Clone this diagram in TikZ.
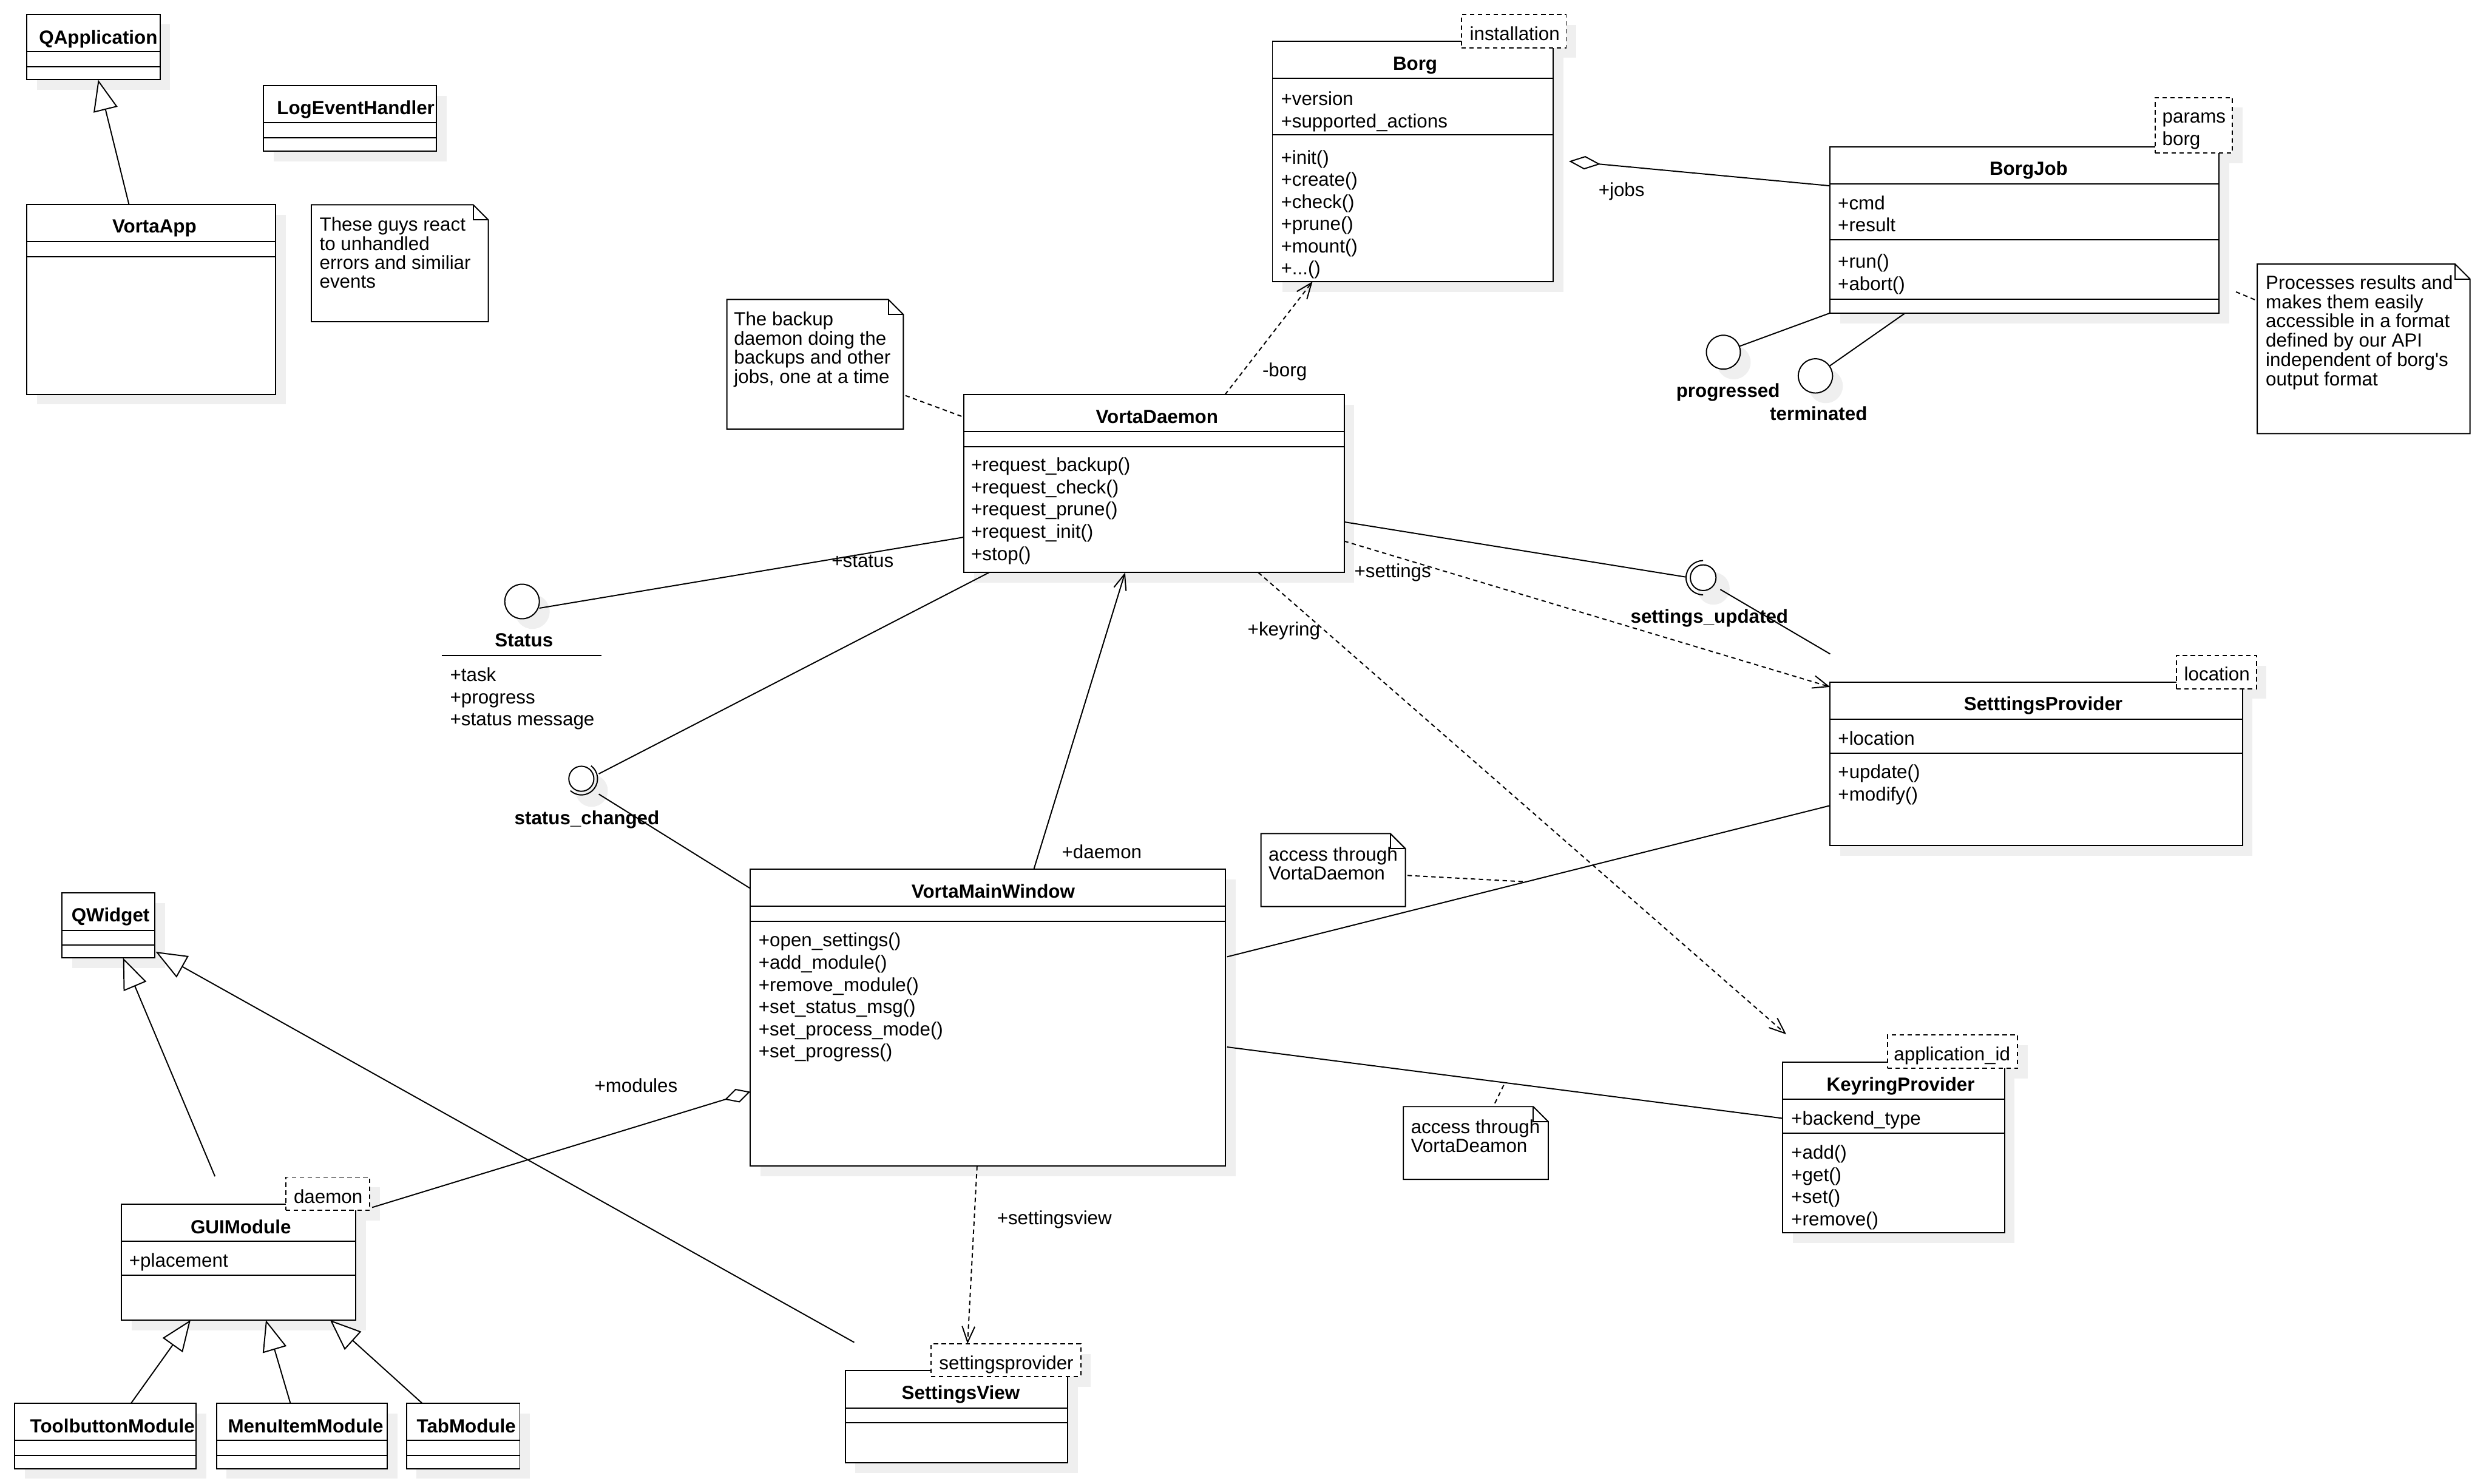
\documentclass[tikz,border=0pt]{standalone}
\usepackage{fontspec}
\setmainfont{Liberation Sans}
\usetikzlibrary{arrows.meta,calc}
\pgfdeclarelayer{bgbase}
\pgfdeclarelayer{shadowlayer}
\pgfsetlayers{bgbase,shadowlayer,main}
\definecolor{shadowc}{HTML}{EFEFEF}

\tikzset{
  boxline/.style={line width=0.75pt},
  cls/.style={draw, line width=0.75pt, fill=white, rectangle, anchor=north west, inner sep=0pt, outer sep=0pt},
  stbox/.style={cls, dash pattern=on 2.8pt off 2.2pt},
  notebox/.style={rectangle, anchor=north west, inner sep=0pt, outer sep=0pt},
  txt/.style={inner sep=0pt, outer sep=0pt, anchor=base west, font=\fontsize{12}{14}\selectfont},
  ttl/.style={inner sep=0pt, outer sep=0pt, anchor=base, font=\fontsize{12}{14}\selectfont\bfseries},
  conn/.style={line width=0.75pt},
  dconn/.style={line width=0.75pt, dash pattern=on 2.8pt off 2.2pt},
  gen/.style={conn, -{Triangle[length=19.5pt,width=15.5pt,fill=white]}},
  openarr/.style={-{Straight Barb[length=10pt,width=8pt]}},
  lolli/.style={circle, draw, line width=0.75pt, fill=white, inner sep=0pt, outer sep=0pt},
}

\newcommand\umlbox[6][cls]{%
  \node[#1, minimum width=#5pt, minimum height=#6pt] (#2) at (#3,#4) {};
  \begin{pgfonlayer}{shadowlayer}
    \fill[shadowc] ($(#2.north west)+(6.4,6.4)$) rectangle ($(#2.south east)+(6.4,6.4)$);
  \end{pgfonlayer}}
\newcommand\sepl[2]{\draw[boxline] ($(#1.north west)+(0,#2)$) -- ($(#1.north east)+(0,#2)$);}
\newcommand\umlnote[5]{%
  \node[notebox, minimum width=#4pt, minimum height=#5pt] (#1) at (#2,#3) {};
  \draw[boxline, fill=white, line join=miter] (#1.north west) -- ($(#1.north east)+(-9.5,0)$) -- ($(#1.north east)+(0,9.5)$) -- (#1.south east) -- (#1.south west) -- cycle;
  \draw[boxline] ($(#1.north east)+(-9.5,0)$) -- ($(#1.north east)+(-9.5,9.5)$) -- ($(#1.north east)+(0,9.5)$);}
\newcommand\circshadow[3]{%
  \begin{pgfonlayer}{shadowlayer}
    \fill[shadowc] ($(#1.center)+(6.5,#3)$) circle[radius=#2pt];
  \end{pgfonlayer}}

\begin{document}
\begin{tikzpicture}[x=1pt,y=-1pt]
\useasboundingbox (0,0) rectangle (1568.1,935.7);
\begin{pgfonlayer}{bgbase}
  \fill[white] (0,0) rectangle (1568.1,935.7);
\end{pgfonlayer}

% ---------- class boxes ----------
\umlbox{qapp}{16.8}{9.1}{84.1}{41.2}
\sepl{qapp}{23.6}\sepl{qapp}{33.1}
\umlbox{vapp}{16.8}{129.2}{157.1}{119.5}
\sepl{vapp}{23.0}\sepl{vapp}{32.7}
\umlbox{logh}{166.3}{54.1}{109.1}{41.2}
\sepl{logh}{23.3}\sepl{logh}{32.7}
\umlbox{borg}{802.6}{26.0}{177.0}{151.6}
\sepl{borg}{23.4}\sepl{borg}{58.9}
\umlbox{borgjob}{1154.2}{92.5}{245.6}{105.0}
\sepl{borgjob}{23.5}\sepl{borgjob}{58.8}\sepl{borgjob}{96.2}
\umlbox{vd}{608.1}{248.9}{239.7}{112.2}
\sepl{vd}{23.2}\sepl{vd}{32.8}
\umlbox{sp}{1154.4}{430.2}{260.0}{103.1}
\sepl{sp}{23.5}\sepl{sp}{45.0}
\umlbox{vmw}{473.3}{548.3}{299.7}{187.2}
\sepl{vmw}{23.3}\sepl{vmw}{32.8}
\umlbox{kp}{1124.5}{670.1}{139.9}{107.4}
\sepl{kp}{23.2}\sepl{kp}{44.8}
\umlbox{qw}{39.1}{563.1}{58.5}{41.1}
\sepl{qw}{23.7}\sepl{qw}{33.1}
\umlbox{gui}{76.7}{759.6}{147.8}{73.0}
\sepl{gui}{23.3}\sepl{gui}{44.9}
\umlbox{tbm}{9.3}{885.2}{114.3}{41.1}
\sepl{tbm}{23.4}\sepl{tbm}{32.8}
\umlbox{mim}{136.5}{885.2}{107.7}{41.1}
\sepl{mim}{23.4}\sepl{mim}{32.8}
\umlbox{tabm}{256.4}{885.2}{71.5}{41.1}
\sepl{tabm}{23.4}\sepl{tabm}{32.8}
\umlbox{sv}{533.2}{864.6}{140.2}{58.1}
\sepl{sv}{23.4}\sepl{sv}{32.7}

% ---------- stereotype (template) boxes ----------
\umlbox[stbox]{borgst}{921.8}{9.2}{66.1}{20.9}
\umlbox[stbox]{bjst}{1359.6}{61.5}{48.6}{34.9}
\umlbox[stbox]{spst}{1372.8}{413.4}{50.4}{21.0}
\umlbox[stbox]{kpst}{1190.5}{652.9}{82.2}{21.0}
\umlbox[stbox]{guist}{180.3}{742.5}{52.9}{20.8}
\umlbox[stbox]{svst}{587.3}{847.6}{94.4}{20.6}

% ---------- notes ----------
\umlnote{n1}{196.4}{129.2}{111.6}{73.7}
\umlnote{n2}{458.5}{188.9}{111.3}{81.7}
\umlnote{n3}{1423.8}{166.5}{134.2}{107.0}
\umlnote{n4}{795.4}{525.8}{91.1}{46.0}
\umlnote{n5}{885.2}{698.0}{91.4}{45.9}

% ---------- lollipops ----------
\node[lolli, minimum size=21.8pt] (sc) at (329.3,379.4) {};
\circshadow{sc}{10.9}{6.4}
\node[lolli, minimum size=15.8pt] (scc) at (366.7,491.2) {};
\circshadow{scc}{10.2}{7.5}
\draw[boxline] ($(scc.center)+(53:10.2pt)$) arc[start angle=53, end angle=-132.5, radius=10.2pt];
\node[lolli, minimum size=16.2pt] (suc) at (1074.3,364.4) {};
\circshadow{suc}{10.2}{6.8}
\draw[boxline] ($(suc.center)+(90:10.8pt)$) arc[start angle=90, end angle=270, radius=10.8pt];
\node[lolli, minimum size=21.4pt] (pc) at (1087.05,222.15) {};
\circshadow{pc}{10.7}{6.4}
\node[lolli, minimum size=21.6pt] (tc) at (1145.1,237.1) {};
\circshadow{tc}{10.8}{6.4}

% ---------- texts: classes ----------
\node[ttl] (qappT) at (62.0,27.9) {QApplication};
\node[ttl] (vappT) at (97.4,146.9) {VortaApp};
\node[ttl] (loghT) at (224.4,72.2) {LogEventHandler};

\node[ttl] (borgT) at (892.6,44.3) {Borg};
\node[txt] (borgA1) at (808,66.4) {+version};
\node[txt] (borgA2) at (808,80.4) {+supported\_actions};
\node[txt] (borgM0) at (808,103.4) {+init()};
\node[txt] (borgM1) at (808,117.4) {+create()};
\node[txt] (borgM2) at (808,131.4) {+check()};
\node[txt] (borgM3) at (808,145.4) {+prune()};
\node[txt] (borgM4) at (808,159.4) {+mount()};
\node[txt] (borgM5) at (808,173.4) {+.{}.{}.()};
\node[txt] (borgstT) at (927.1,25.5) {installation};

\node[ttl] (borgjobT) at (1279.6,110.3) {BorgJob};
\node[txt] (bjA1) at (1159.3,132.1) {+cmd};
\node[txt] (bjA2) at (1159.3,146.0) {+result};
\node[txt] (bjM1) at (1159.3,169.2) {+run()};
\node[txt] (bjM2) at (1159.3,183.1) {+abort()};
\node[txt] (bjstT1) at (1363.9,77.6) {params};
\node[txt] (bjstT2) at (1363.9,91.6) {borg};

\node[ttl] (vdT) at (729.8,267.0) {VortaDaemon};
\foreach \t [count=\i from 0] in {+request\_backup(),+request\_check(),+request\_prune(),+request\_init(),+stop()}
  \node[txt] (vdM\i) at ({612.6},{297.4+14*\i}) {\t};

\node[ttl] (spT) at (1288.8,448.1) {SetttingsProvider};
\node[txt] (spA1) at (1159.4,470.0) {+location};
\node[txt] (spM1) at (1159.4,491.1) {+update()};
\node[txt] (spM2) at (1159.4,505.2) {+modify()};
\node[txt] (spstT) at (1377.7,429.3) {location};

\node[ttl] (vmwT) at (626.5,566.3) {VortaMainWindow};
\foreach \t [count=\i from 0] in {+open\_settings(),+add\_module(),+remove\_module(),+set\_status\_msg(),+set\_process\_mode(),+set\_progress()}
  \node[txt] (vmwM\i) at ({478.5},{597.2+14*\i}) {\t};

\node[ttl] (kpT) at (1198.9,688.0) {KeyringProvider};
\node[txt] (kpA1) at (1129.9,709.7) {+backend\_type};
\foreach \t [count=\i from 0] in {+add(),+get(),+set(),+remove()}
  \node[txt] (kpM\i) at ({1129.9},{731.0+14*\i}) {\t};
\node[txt] (kpstT) at (1194.6,669.1) {application\_id};

\node[ttl] (qwT) at (69.7,581.2) {QWidget};
\node[ttl] (guiT) at (151.9,778.0) {GUIModule};
\node[txt] (guiA1) at (81.5,799.3) {+placement};
\node[txt] (guistT) at (185.3,759.1) {daemon};
\node[ttl] (tbmT) at (70.9,903.5) {ToolbuttonModule};
\node[ttl] (mimT) at (192.8,903.5) {MenuItemModule};
\node[ttl] (tabmT) at (294.1,903.5) {TabModule};
\node[ttl] (svT) at (606.0,882.5) {SettingsView};
\node[txt] (svstT) at (592.4,863.7) {settingsprovider};

% ---------- texts: lollipops ----------
\node[ttl] (scT) at (330.5,408.1) {Status};
\draw[boxline] (278.6,413.5) -- (379.3,413.5);
\foreach \t [count=\i from 0] in {+task,+progress,+status message}
  \node[txt] (scA\i) at ({283.9},{429.8+14*\i}) {\t};
\node[ttl] (sccT) at (370.2,520.0) {status\_changed};
\node[ttl] (sucT) at (1078.2,393.0) {settings\_updated};
\node[ttl] (pcT) at (1090.0,250.5) {progressed};
\node[ttl] (tcT) at (1147.1,265.2) {terminated};

% ---------- texts: notes ----------
\foreach \t [count=\i from 0] in {These guys react,to unhandled,errors and similiar,events}
  \node[txt] (n1L\i) at ({201.6},{145.8+12*\i}) {\t};
\foreach \t [count=\i from 0] in {The backup,daemon doing the,backups and other,{jobs, one at a time}}
  \node[txt] (n2L\i) at ({463.0},{205.5+12.1*\i}) {\t};
\foreach \t [count=\i from 0] in {Processes results and,makes them easily,accessible in a format,defined by our API,independent of borg\textquotesingle{}s,output format}
  \node[txt] (n3L\i) at ({1429.2},{182.4+12.15*\i}) {\t};
\node[txt] (n4L1) at (800.2,542.9) {access through};
\node[txt] (n4L2) at (800.2,554.9) {VortaDaemon};
\node[txt] (n5L1) at (890.0,715.0) {access through};
\node[txt] (n5L2) at (890.0,727.0) {VortaDeamon};

% ---------- connector labels ----------
\node[txt] (lStatus) at (524.6,357.6) {+status};
\node[txt] (lBorg) at (796.3,237.4) {-borg};
\node[txt] (lSettings) at (854.3,364.4) {+settings};
\node[txt] (lKeyring) at (787.0,401.0) {+keyring};
\node[txt] (lModules) at (375.0,689.0) {+modules};
\node[txt] (lJobs) at (1008.3,123.8) {+jobs};
\node[txt] (lSview) at (628.9,772.3) {+settingsview};
\node[txt] (lDaemon) at (669.8,541.5) {+daemon};

% ---------- connectors ----------
% generalizations
\draw[gen] ($(vapp.north west)+(64.6,0)$) -- ($(qapp.south west)+(45.1,0)$);
\draw[gen] ($(gui.north west)+(58.9,-17.6)$) -- ($(qw.south west)+(38.5,0)$);
\draw[gen] ($(sv.north west)+(5.6,-17.9)$) -- ($(qw.south east)+(0.6,-3.9)$);
\draw[gen] ($(tbm.north west)+(73.3,0)$) -- ($(gui.south west)+(43.5,0)$);
\draw[gen] ($(mim.north west)+(46.7,0)$) -- ($(gui.south west)+(91.0,0)$);
\draw[gen] ($(tabm.north west)+(10,0)$) -- ($(gui.south west)+(131.5,0)$);
% aggregations
\draw[conn, {Diamond[length=17pt,width=9pt,fill=white]}-] ($(vmw.north west)+(0,140.3)$) -- ($(guist.south east)+(1.5,-1.7)$);
\draw[conn, {Diamond[length=20pt,width=8.5pt,fill=white]}-] ($(borg.north east)+(10,75.7)$) -- ($(borgjob.north west)+(0,24.7)$);
% BorgJob lollipops and note
\draw[conn] (pc) -- (borgjob.south west);
\draw[conn] (tc) -- ($(borgjob.south west)+(47.5,0)$);
\draw[dconn] ($(borgjob.north east)+(10.6,91.6)$) -- ($(n3.north west)+(0,23.2)$);
% VortaDaemon
\draw[dconn] ($(n2.north east)+(1.3,60.6)$) -- ($(vd.north west)+(-1.6,13.7)$);
\draw[dconn, openarr] ($(vd.north west)+(164.6,0)$) -- ($(borg.south west)+(25.3,0)$);
\draw[conn] ($(sc.center)+(10.9,4.2)$) -- ($(vd.north west)+(0,89.9)$);
\draw[conn] ($(vd.south west)+(15.8,0)$) -- ($(scc.center)+(11,-3.1)$);
\draw[conn] ($(scc.center)+(11,9.7)$) -- ($(vmw.north west)+(0,12.1)$);
\draw[conn, openarr] ($(vmw.north west)+(178.8,0)$) -- ($(vd.south west)+(101.6,0)$);
\draw[conn] ($(vd.north east)+(0,80.3)$) -- ($(suc.center)+(-11.3,-0.5)$);
\draw[conn] ($(suc.center)+(10.8,7.4)$) -- ($(sp.north west)+(0,-17.7)$);
\draw[dconn, openarr] ($(vd.north east)+(0,92.4)$) -- ($(sp.north west)+(0,3.1)$);
\draw[dconn, openarr] ($(vd.south west)+(185.6,0)$) -- ($(kp.north west)+(2.2,-17.7)$);
% VortaMainWindow associations
\coordinate (l22a) at ($(vmw.north east)+(1,55.2)$);
\coordinate (l22b) at ($(sp.north west)+(0,77.9)$);
\coordinate (l23a) at ($(vmw.north east)+(1,112.1)$);
\coordinate (l23b) at ($(kp.north west)+(0,35.3)$);
\draw[conn] (l22a) -- (l22b);
\draw[conn] (l23a) -- (l23b);
\draw[dconn] ($(n4.north east)+(1.3,26.4)$) -- ($(l22a)!0.496!(l22b)$);
\draw[dconn] ($(n5.north west)+(57.7,-2.1)$) -- ($(l23a)!0.5!(l23b)$);
\draw[dconn, openarr] ($(vmw.south west)+(143,0)$) -- ($(svst.north west)+(23,0)$);
\end{tikzpicture}
\end{document}
